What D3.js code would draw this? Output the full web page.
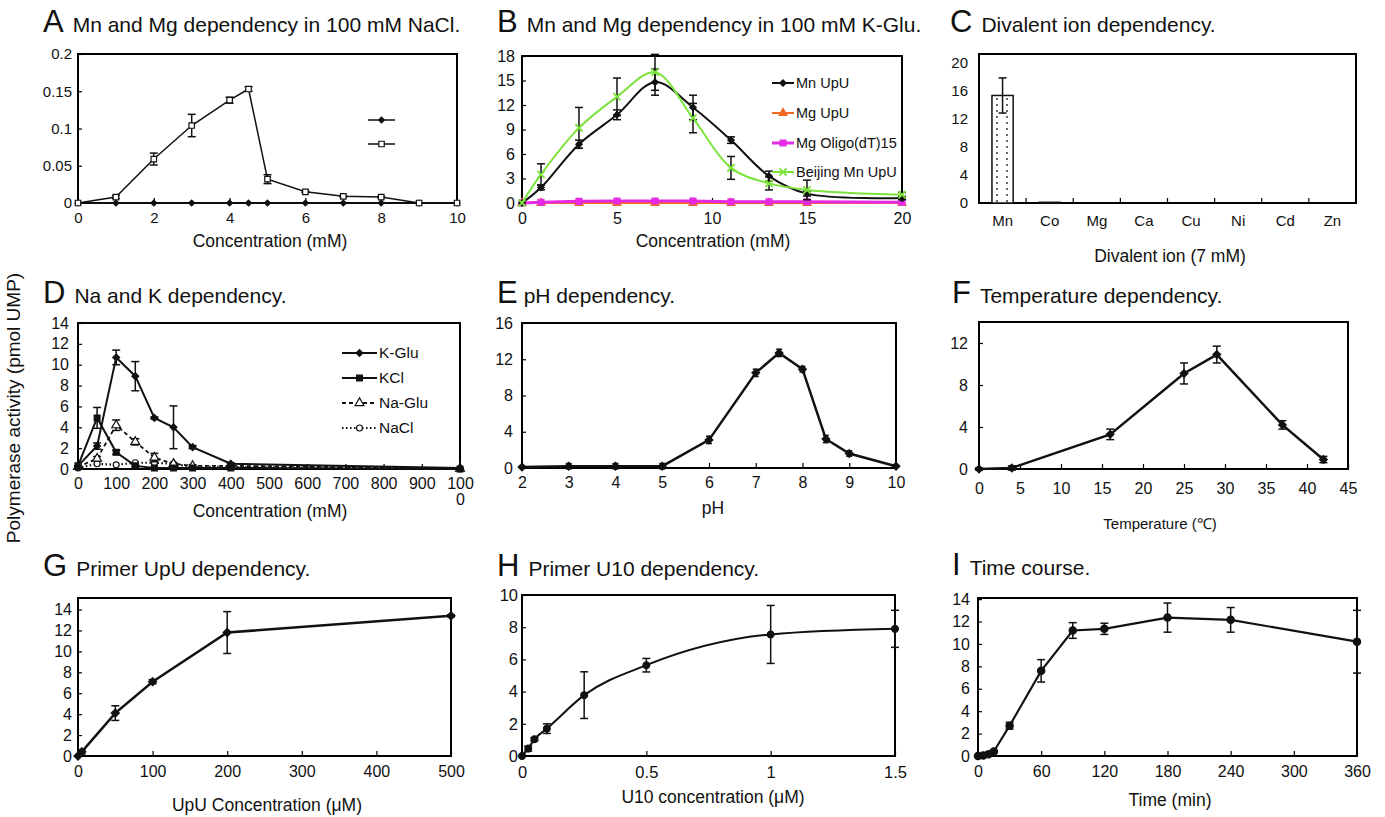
<!DOCTYPE html>
<meta charset="utf-8">
<head>
<script src="https://d3js.org/d3.v7.min.js"></script>
<style>
  body { margin: 0; background: #fff; }
  text { font-family: "Liberation Sans", Arial, Helvetica, sans-serif; fill: #111; }
</style>
</head>
<body>
<svg id="fig" width="1385" height="817"></svg>

<script>
// ---------- data ----------
// A  Mn and Mg dependency in 100 mM NaCl
var aConc = [0, 1, 2, 3, 4, 4.5, 5, 6, 7, 8, 9, 10];
var aFilled = [0, 0, 0, 0, 0, 0, 0, 0, 0, 0, 0, 0];
var aOpen = [0, 0.008, 0.059, 0.104, 0.138, 0.153, 0.032, 0.015, 0.009, 0.008, 0, 0];
var aOpenErr = [0, 0.002, 0.008, 0.015, 0.004, 0.003, 0.006, 0.001, 0.001, 0.001, 0, 0];

// B  Mn and Mg dependency in 100 mM K-Glu
var bConc = [0, 1, 3, 5, 7, 9, 11, 13, 15, 20];
var bMnUpU = [0, 1.9, 7.2, 10.8, 14.8, 11.7, 7.7, 3.3, 1.15, 0.6];
var bMnUpUErr = [0, 0.3, 0.5, 0.6, 1.6, 1.5, 0.4, 0.6, 0.3, 0.2];
var bMgUpU = [0, 0, 0, 0, 0, 0, 0, 0, 0, 0];
var bMgOligo = [0, 0.1, 0.2, 0.25, 0.25, 0.25, 0.15, 0.15, 0.15, 0.1];
var bBeijing = [0, 3.5, 9.2, 13.0, 16.0, 10.4, 4.3, 2.4, 1.6, 1.0];
var bBeijingErr = [0, 1.3, 2.5, 2.3, 2.2, 1.8, 1.4, 0.8, 1.2, 0.3];
var bSeriesNames = ["Mn UpU", "Mg UpU", "Mg Oligo(dT)15", "Beijing Mn UpU"];

// C  Divalent ion dependency
var cIons = ["Mn", "Co", "Mg", "Ca", "Cu", "Ni", "Cd", "Zn"];
var cActivity = [15.3, 0.1, 0, 0, 0, 0, 0, 0];
var cErr = [2.5, 0, 0, 0, 0, 0, 0, 0];

// D  Na and K dependency
var dConc = [0, 50, 100, 150, 200, 250, 300, 400, 1000];
var dKGlu = [0.3, 2.2, 10.7, 8.9, 4.9, 4.0, 2.1, 0.5, 0.1];
var dKGluErr = [0, 0.3, 0.7, 1.4, 0.1, 2.05, 0.15, 0.1, 0];
var dKCl = [0.3, 4.9, 1.6, 0.3, 0.1, 0.1, 0.1, 0.1, 0];
var dKClErr = [0, 1.0, 0.2, 0.1, 0, 0, 0, 0, 0];
var dNaGlu = [0.2, 1.0, 4.2, 2.6, 1.1, 0.5, 0.3, 0.3, 0.05];
var dNaGluErr = [0, 0.2, 0.5, 0.3, 0.4, 0.1, 0.1, 0, 0];
var dNaCl = [0.1, 0.5, 0.4, 0.6, 0.6, 0.5, 0.2, 0.2, 0];
var dSeriesNames = ["K-Glu", "KCl", "Na-Glu", "NaCl"];

// E  pH dependency
var ePH = [2, 3, 4, 5, 6, 7, 7.5, 8, 8.5, 9, 10];
var eActivity = [0.1, 0.2, 0.2, 0.2, 3.1, 10.5, 12.7, 10.9, 3.2, 1.6, 0.2];
var eErr = [0.1, 0.3, 0.3, 0.3, 0.4, 0.4, 0.4, 0.3, 0.4, 0.3, 0.1];

// F  Temperature dependency
var fTemp = [0, 4, 16, 25, 29, 37, 42];
var fActivity = [0, 0.1, 3.3, 9.1, 10.9, 4.2, 0.9];
var fErr = [0.1, 0.2, 0.5, 1.0, 0.8, 0.4, 0.3];

// G  Primer UpU dependency
var gConc = [0, 5, 50, 100, 200, 500];
var gActivity = [0, 0.4, 4.1, 7.1, 11.8, 13.4];
var gErr = [0, 0.2, 0.7, 0.2, 2.0, 0.1];

// H  Primer U10 dependency
var hConc = [0, 0.025, 0.05, 0.1, 0.25, 0.5, 1, 1.5];
var hActivity = [0, 0.46, 1.04, 1.7, 3.78, 5.64, 7.55, 7.9];
var hErr = [0, 0.15, 0.1, 0.3, 1.45, 0.42, 1.8, 1.15];

// I  Time course
var iTime = [0, 5, 10, 15, 30, 60, 90, 120, 180, 240, 360];
var iActivity = [0, 0.05, 0.15, 0.4, 2.7, 7.6, 11.2, 11.35, 12.35, 12.15, 10.2];
var iErr = [0, 0, 0, 0.1, 0.3, 1.0, 0.7, 0.5, 1.3, 1.1, 2.8];

// ---------- drawing ----------
var FONT = '"Liberation Sans", Arial, Helvetica, sans-serif';
var svg = d3.select("#fig");
var fmt = d3.format("~g");

var GREEN = "#7ce23c", ORANGE = "#f26a22", MAGENTA = "#e52ae5";
var DIAMOND = d3.symbolDiamond2 || d3.symbolDiamond;
var TIMES = d3.symbolTimes || d3.symbolCross;

function styleAxis(a, fs) {
  a.attr("font-family", FONT).attr("font-size", fs);
  a.select(".domain").remove();
  a.selectAll(".tick line").attr("stroke", "#000").attr("stroke-width", 1.2);
  a.selectAll(".tick text").attr("fill", "#111");
}

function makePanel(o) {
  var g = svg.append("g");
  var x = d3.scaleLinear().domain(o.xDomain).range([o.left, o.right]);
  var y = d3.scaleLinear().domain(o.yDomain).range([o.bottom, o.top]);
  var fs = o.tickFont || 16;

  // frame
  g.append("rect")
    .attr("x", o.left).attr("y", o.top)
    .attr("width", o.right - o.left).attr("height", o.bottom - o.top)
    .attr("fill", "none").attr("stroke", "#000").attr("stroke-width", 2);

  if (o.xTicks) {
    var xa = g.append("g")
      .attr("transform", "translate(0," + o.bottom + ")")
      .call(d3.axisBottom(x).tickValues(o.xTicks).tickSizeInner(-5).tickSizeOuter(0)
        .tickPadding(o.xPad).tickFormat(fmt));
    styleAxis(xa, o.xTickFont || fs);
    g.xAxis = xa;
  }
  var ya = g.append("g")
    .attr("transform", "translate(" + o.left + ",0)")
    .call(d3.axisLeft(y).tickValues(o.yTicks).tickSizeInner(-4).tickSizeOuter(0)
      .tickPadding(o.yPad).tickFormat(fmt));
  styleAxis(ya, fs);

  // panel title: big letter + caption
  var t = svg.append("text").attr("x", o.titleX).attr("y", o.titleY);
  t.append("tspan").attr("font-size", 31).text(o.letter);
  t.append("tspan").attr("font-size", 21).attr("dx", o.letterGap || 9).text(o.title);

  // x axis title
  svg.append("text")
    .attr("x", o.xLabelX).attr("y", o.xLabelY)
    .attr("text-anchor", "middle")
    .attr("font-size", o.xLabelFont || 17.5)
    .text(o.xLabel);

  return { g: g, x: x, y: y };
}

function errorBars(p, xs, ys, errs, w) {
  var cap = (w || 8) / 2;
  xs.forEach(function (xv, i) {
    var e = errs[i];
    if (!e) return;
    var cx = p.x(xv), y1 = p.y(ys[i] - e), y2 = p.y(ys[i] + e);
    var eb = p.g.append("g").attr("stroke", "#111").attr("stroke-width", 1.5);
    eb.append("line").attr("x1", cx).attr("x2", cx).attr("y1", y1).attr("y2", y2);
    eb.append("line").attr("x1", cx - cap).attr("x2", cx + cap).attr("y1", y1).attr("y2", y1);
    eb.append("line").attr("x1", cx - cap).attr("x2", cx + cap).attr("y1", y2).attr("y2", y2);
  });
}

function drawSeries(p, xs, ys, opt) {
  var pts = xs.map(function (d, i) { return [d, ys[i]]; });
  var line = d3.line()
    .x(function (d) { return p.x(d[0]); })
    .y(function (d) { return p.y(d[1]); })
    .curve(opt.curve || d3.curveLinear);
  p.g.append("path").datum(pts)
    .attr("d", line)
    .attr("fill", "none")
    .attr("stroke", opt.color)
    .attr("stroke-width", opt.width || 2)
    .attr("stroke-dasharray", opt.dash || null);
  if (opt.err) errorBars(p, xs, ys, opt.err, opt.cap);
  p.g.selectAll(null).data(pts).enter().append("path")
    .attr("transform", function (d) { return "translate(" + p.x(d[0]) + "," + p.y(d[1]) + ")"; })
    .attr("d", d3.symbol().type(opt.symbol).size(opt.size || 40))
    .attr("fill", opt.fill)
    .attr("stroke", opt.stroke || opt.color)
    .attr("stroke-width", opt.symbolStroke || 1.2);
}

function legendRow(x1, x2, yy, label, opt, fs) {
  var g = svg.append("g");
  g.append("line").attr("x1", x1).attr("x2", x2).attr("y1", yy).attr("y2", yy)
    .attr("stroke", opt.color).attr("stroke-width", opt.width || 2)
    .attr("stroke-dasharray", opt.dash || null);
  g.append("path")
    .attr("transform", "translate(" + (x1 + x2) / 2 + "," + yy + ")")
    .attr("d", d3.symbol().type(opt.symbol).size(opt.size || 40))
    .attr("fill", opt.fill).attr("stroke", opt.stroke || opt.color)
    .attr("stroke-width", opt.symbolStroke || 1.2);
  if (label) {
    g.append("text").attr("x", x2 + 2).attr("y", yy).attr("dy", "0.35em")
      .attr("font-size", fs).text(label);
  }
}

// ---- A ----
var pA = makePanel({
  left: 78, right: 457, top: 54, bottom: 203,
  xDomain: [0, 10], yDomain: [0, 0.2],
  xTicks: [0, 2, 4, 6, 8, 10], yTicks: [0, 0.05, 0.1, 0.15, 0.2],
  xPad: 9, yPad: 6, tickFont: 15,
  letter: "A", title: "Mn and Mg dependency in 100 mM NaCl.", titleX: 43, titleY: 32,
  xLabel: "Concentration (mM)", xLabelX: 270, xLabelY: 247
});
var aFilledStyle = { color: "#111", width: 1.5, symbol: DIAMOND, size: 22, fill: "#111" };
var aOpenStyle = { color: "#111", width: 1.5, symbol: d3.symbolSquare, size: 30, fill: "#fff", err: aOpenErr };
drawSeries(pA, aConc, aFilled, aFilledStyle);
drawSeries(pA, aConc, aOpen, aOpenStyle);
legendRow(368, 395, 120, null, aFilledStyle);
legendRow(368, 395, 144, null, aOpenStyle);

// ---- B ----
var pB = makePanel({
  left: 522, right: 902, top: 56, bottom: 203,
  xDomain: [0, 20], yDomain: [0, 18],
  xTicks: [0, 5, 10, 15, 20], yTicks: [0, 3, 6, 9, 12, 15, 18],
  xPad: 10, yPad: 7, tickFont: 16,
  letter: "B", title: "Mn and Mg dependency in 100 mM K-Glu.", titleX: 497, titleY: 32,
  xLabel: "Concentration (mM)", xLabelX: 713, xLabelY: 247
});
var bStyles = [
  { color: "#111", width: 2, symbol: DIAMOND, size: 26, fill: "#111", curve: d3.curveCatmullRom, err: bMnUpUErr },
  { color: ORANGE, width: 2, symbol: d3.symbolTriangle, size: 28, fill: ORANGE },
  { color: MAGENTA, width: 3, symbol: d3.symbolSquare, size: 34, fill: MAGENTA },
  { color: GREEN, width: 2, symbol: TIMES, size: 36, fill: "none", symbolStroke: 1.8, curve: d3.curveCatmullRom, err: bBeijingErr }
];
drawSeries(pB, bConc, bMgUpU, bStyles[1]);
drawSeries(pB, bConc, bMgOligo, bStyles[2]);
drawSeries(pB, bConc, bMnUpU, bStyles[0]);
drawSeries(pB, bConc, bBeijing, bStyles[3]);
[83, 113, 143, 172].forEach(function (yy, i) {
  legendRow(772, 794, yy, bSeriesNames[i], bStyles[i], 14.5);
});

// ---- C ----
var defs = svg.append("defs");
var pat = defs.append("pattern").attr("id", "dots")
  .attr("patternUnits", "userSpaceOnUse")
  .attr("x", 992).attr("width", 10).attr("height", 6);
pat.append("rect").attr("width", 10).attr("height", 6).attr("fill", "#fff");
pat.append("circle").attr("cx", 5).attr("cy", 3).attr("r", 0.9).attr("fill", "#222");

var cLeft = 979, cRight = 1356, cTop = 54, cBottom = 203;
var cx = d3.scaleBand().domain(cIons).range([cLeft, cRight]).padding(0);
var cy = d3.scaleLinear().domain([0, 21.2]).range([cBottom, cTop]);
var gC = svg.append("g");
gC.append("rect").attr("x", cLeft).attr("y", cTop)
  .attr("width", cRight - cLeft).attr("height", cBottom - cTop)
  .attr("fill", "none").attr("stroke", "#000").attr("stroke-width", 2);
var cya = gC.append("g").attr("transform", "translate(" + cLeft + ",0)")
  .call(d3.axisLeft(cy).tickValues([0, 4, 8, 12, 16, 20]).tickSizeInner(0).tickSizeOuter(0).tickPadding(11));
styleAxis(cya, 15);
// category boundaries as inner ticks
gC.selectAll(null).data(cIons.slice(1)).enter().append("line")
  .attr("x1", function (d) { return cx(d); }).attr("x2", function (d) { return cx(d); })
  .attr("y1", cBottom).attr("y2", cBottom - 5)
  .attr("stroke", "#000").attr("stroke-width", 1.2);
gC.selectAll(null).data(cIons).enter().append("text")
  .attr("x", function (d) { return cx(d) + cx.bandwidth() / 2; })
  .attr("y", 226).attr("text-anchor", "middle").attr("font-size", 15)
  .text(function (d) { return d; });
var barW = cx.bandwidth() * 0.45;
gC.selectAll(null).data(cIons).enter().append("rect")
  .filter(function (d, i) { return cActivity[i] > 0; })
  .attr("x", function (d) { return cx(d) + (cx.bandwidth() - barW) / 2; })
  .attr("y", function (d) { return cy(cActivity[cIons.indexOf(d)]); })
  .attr("width", barW)
  .attr("height", function (d) { return cBottom - cy(cActivity[cIons.indexOf(d)]); })
  .attr("fill", "url(#dots)").attr("stroke", "#111").attr("stroke-width", 1.5);
errorBars({ g: gC, x: function (d) { return cx(d) + cx.bandwidth() / 2; }, y: cy }, cIons, cActivity, cErr, 8);
var tC = svg.append("text").attr("x", 950).attr("y", 32);
tC.append("tspan").attr("font-size", 31).text("C");
tC.append("tspan").attr("font-size", 21).attr("dx", 9).text("Divalent ion dependency.");
svg.append("text").attr("x", 1170).attr("y", 262).attr("text-anchor", "middle")
  .attr("font-size", 17.5).text("Divalent ion (7 mM)");

// ---- D ----
var pD = makePanel({
  left: 78, right: 460, top: 323, bottom: 469,
  xDomain: [0, 1000], yDomain: [0, 14],
  xTicks: d3.range(0, 1001, 100), yTicks: d3.range(0, 15, 2),
  xPad: 9, yPad: 9, tickFont: 16,
  letter: "D", title: "Na and K dependency.", titleX: 43, titleY: 303,
  xLabel: "Concentration (mM)", xLabelX: 270, xLabelY: 517
});
// the 1000 label wraps onto two lines
pD.g.xAxis.selectAll(".tick text").filter(function (d) { return d === 1000; })
  .text("100").append("tspan").attr("x", 0).attr("dy", "1em").text("0");
var dStyles = [
  { color: "#111", width: 2, symbol: DIAMOND, size: 30, fill: "#111", err: dKGluErr },
  { color: "#111", width: 2, symbol: d3.symbolSquare, size: 34, fill: "#111", err: dKClErr },
  { color: "#111", width: 1.8, dash: "4,3", symbol: d3.symbolTriangle, size: 34, fill: "#fff", err: dNaGluErr },
  { color: "#111", width: 2.2, dash: "1.5,2.5", symbol: d3.symbolCircle, size: 28, fill: "#fff" }
];
drawSeries(pD, dConc, dNaCl, dStyles[3]);
drawSeries(pD, dConc, dNaGlu, dStyles[2]);
drawSeries(pD, dConc, dKCl, dStyles[1]);
drawSeries(pD, dConc, dKGlu, dStyles[0]);
[353, 378, 403, 428].forEach(function (yy, i) {
  legendRow(342, 377, yy, dSeriesNames[i], dStyles[i], 15.5);
});

// ---- E ----
var pE = makePanel({
  left: 522, right: 896, top: 323, bottom: 468,
  xDomain: [2, 10], yDomain: [0, 16],
  xTicks: d3.range(2, 11, 1), yTicks: [0, 4, 8, 12, 16],
  xPad: 9, yPad: 9, tickFont: 16,
  letter: "E", title: "pH dependency.", titleX: 497, titleY: 303, letterGap: 6,
  xLabel: "pH", xLabelX: 713, xLabelY: 514
});
drawSeries(pE, ePH, eActivity, { color: "#111", width: 2.5, symbol: DIAMOND, size: 38, fill: "#111", err: eErr, cap: 6 });

// ---- F ----
var pF = makePanel({
  left: 979, right: 1348, top: 322, bottom: 469,
  xDomain: [0, 45], yDomain: [0, 14],
  xTicks: d3.range(0, 46, 5), yTicks: [0, 4, 8, 12],
  xPad: 14, yPad: 11, tickFont: 16,
  letter: "F", title: "Temperature dependency.", titleX: 952, titleY: 303,
  xLabel: "Temperature (\u2103)", xLabelX: 1160, xLabelY: 529, xLabelFont: 15
});
drawSeries(pF, fTemp, fActivity, { color: "#111", width: 2.5, symbol: DIAMOND, size: 38, fill: "#111", err: fErr });

// ---- G ----
var pG = makePanel({
  left: 78, right: 451, top: 598, bottom: 756,
  xDomain: [0, 500], yDomain: [0, 15.1],
  xTicks: d3.range(0, 501, 100), yTicks: d3.range(0, 15, 2),
  xPad: 10, yPad: 6, tickFont: 16,
  letter: "G", title: "Primer UpU dependency.", titleX: 43, titleY: 576,
  xLabel: "UpU Concentration (\u03bcM)", xLabelX: 267, xLabelY: 811
});
drawSeries(pG, gConc, gActivity, { color: "#111", width: 2.5, symbol: DIAMOND, size: 42, fill: "#111", err: gErr });

// ---- H ----
var pH = makePanel({
  left: 522, right: 895, top: 595, bottom: 756,
  xDomain: [0, 1.5], yDomain: [0, 10],
  xTicks: [0, 0.5, 1, 1.5], yTicks: d3.range(0, 11, 2),
  xPad: 10, yPad: 4, tickFont: 16.5,
  letter: "H", title: "Primer U10 dependency.", titleX: 497, titleY: 576,
  xLabel: "U10 concentration (\u03bcM)", xLabelX: 713, xLabelY: 803
});
drawSeries(pH, hConc, hActivity, { color: "#111", width: 2, symbol: d3.symbolCircle, size: 36, fill: "#111", err: hErr, curve: d3.curveMonotoneX });

// ---- I ----
var pI = makePanel({
  left: 978, right: 1357, top: 598, bottom: 756,
  xDomain: [0, 360], yDomain: [0, 14.1],
  xTicks: d3.range(0, 361, 60), yTicks: d3.range(0, 15, 2),
  xPad: 10, yPad: 8, tickFont: 16,
  letter: "I", title: "Time course.", titleX: 952, titleY: 575,
  xLabel: "Time (min)", xLabelX: 1170, xLabelY: 806
});
drawSeries(pI, iTime, iActivity, { color: "#111", width: 2.2, symbol: d3.symbolCircle, size: 42, fill: "#111", err: iErr });

// shared y axis title
svg.append("text")
  .attr("transform", "translate(20,408) rotate(-90)")
  .attr("text-anchor", "middle")
  .attr("font-size", 19)
  .text("Polymerase activity (pmol UMP)");
</script>
</body>
</html>
